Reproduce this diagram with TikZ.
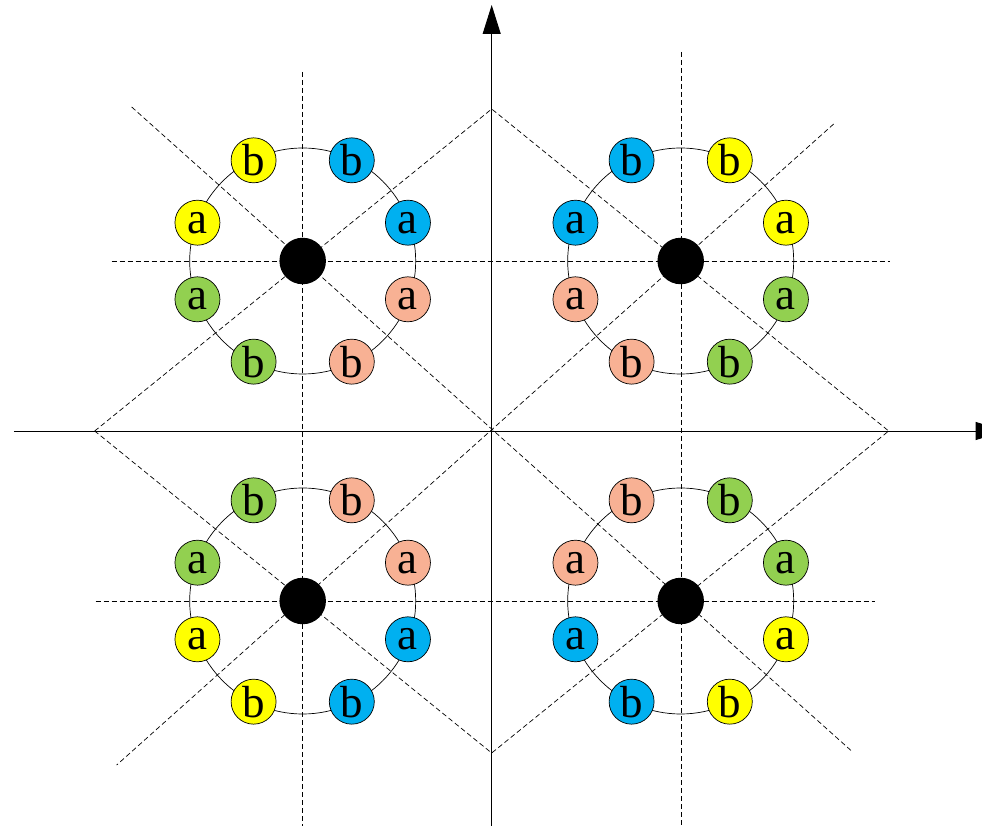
\documentclass[tikz,border=0pt]{standalone}
\usepackage{fontspec}
\setmainfont{Liberation Serif}
\usetikzlibrary{arrows.meta, calc, backgrounds}
\definecolor{Sun}{HTML}{FFFF00}
\definecolor{Sky}{HTML}{00B0F0}
\definecolor{Leaf}{HTML}{92D050}
\definecolor{Peach}{HTML}{F8B194}
\tikzset{
  ionbox/.style={circle, draw=black, fill=#1, line width=0.7pt,
                 minimum size=45pt, inner sep=0pt,
                 font=\fontsize{45}{45}\selectfont},
  corebox/.style={circle, fill=black, minimum size=46.5pt, inner sep=0pt},
  guide/.style={dash pattern=on 5pt off 3pt, line width=0.7pt},
}

\begin{document}
\begin{tikzpicture}[x=1pt, y=1pt,
        axis/.style={-{Triangle[length=29pt, width=18pt]}, line width=0.9pt},
        ring/.style={line width=0.7pt}
      ]
        \useasboundingbox (-491.7,-395) rectangle (490.3,431);
        % centres
        \node[corebox] (tl) at (-189,170) {};
        \node[corebox] (tr) at (189,170) {};
        \node[corebox] (bl) at (-189,-170) {};
        \node[corebox] (br) at (189,-170) {};
        % outer ions
        \foreach \ang/\col/\txt [count=\i] in {116/Sun/b, 64/Sky/b, 20/Sky/a, 340/Peach/a,
            296/Peach/b, 244/Leaf/b, 200/Leaf/a, 160/Sun/a}
          \node[ionbox=\col] (tl\i) at ($(tl)+(\ang:112)$) {\txt};
        \foreach \ang/\col/\txt [count=\i] in {116/Sky/b, 64/Sun/b, 20/Sun/a, 340/Leaf/a,
            296/Leaf/b, 244/Peach/b, 200/Peach/a, 160/Sky/a}
          \node[ionbox=\col] (tr\i) at ($(tr)+(\ang:112)$) {\txt};
        \foreach \ang/\col/\txt [count=\i] in {116/Leaf/b, 64/Peach/b, 20/Peach/a, 340/Sky/a,
            296/Sky/b, 244/Sun/b, 200/Sun/a, 160/Leaf/a}
          \node[ionbox=\col] (bl\i) at ($(bl)+(\ang:112)$) {\txt};
        \foreach \ang/\col/\txt [count=\i] in {116/Peach/b, 64/Leaf/b, 20/Leaf/a, 340/Sun/a,
            296/Sun/b, 244/Sky/b, 200/Sky/a, 160/Peach/a}
          \node[ionbox=\col] (br\i) at ($(br)+(\ang:112)$) {\txt};

        \begin{scope}[on background layer]
          % axes
          \coordinate (xlo) at (-477.7,0);
          \coordinate (xhi) at (513,0);
          \coordinate (ylo) at (0,-395);
          \coordinate (yhi) at (0,426);
          \draw[axis] (xlo) -- (xhi);
          \draw[axis] (ylo) -- (yhi);
          % diamond and diagonals
          \coordinate (dl) at (-397,0);
          \coordinate (dt) at (0,322);
          \coordinate (dr) at (397,0);
          \coordinate (db) at (0,-322);
          \draw[guide] (dl) -- (dt) -- (dr) -- (db) -- cycle;
          \coordinate (ga) at (-360,324);
          \coordinate (gb) at (361,-321);
          \coordinate (gc) at (342,307);
          \coordinate (gd) at (-375,-334);
          \draw[guide] (ga) -- (gb);
          \draw[guide] (gc) -- (gd);
          % verticals and horizontals
          \coordinate (va) at (-189,359);
          \coordinate (vb) at (-189,-395);
          \coordinate (vc) at (190,379);
          \coordinate (vd) at (190,-395);
          \draw[guide] (va) -- (vb);
          \draw[guide] (vc) -- (vd);
          \coordinate (ha) at (-380,170);
          \coordinate (hb) at (398,170);
          \coordinate (hc) at (-396,-170);
          \coordinate (hd) at (383,-170);
          \draw[guide] (ha) -- (hb);
          \draw[guide] (hc) -- (hd);
          % rings
          \foreach \c in {tl, tr, bl, br}
            \draw[ring] (\c) circle[radius=113];
        \end{scope}
      \end{tikzpicture}
\end{document}
